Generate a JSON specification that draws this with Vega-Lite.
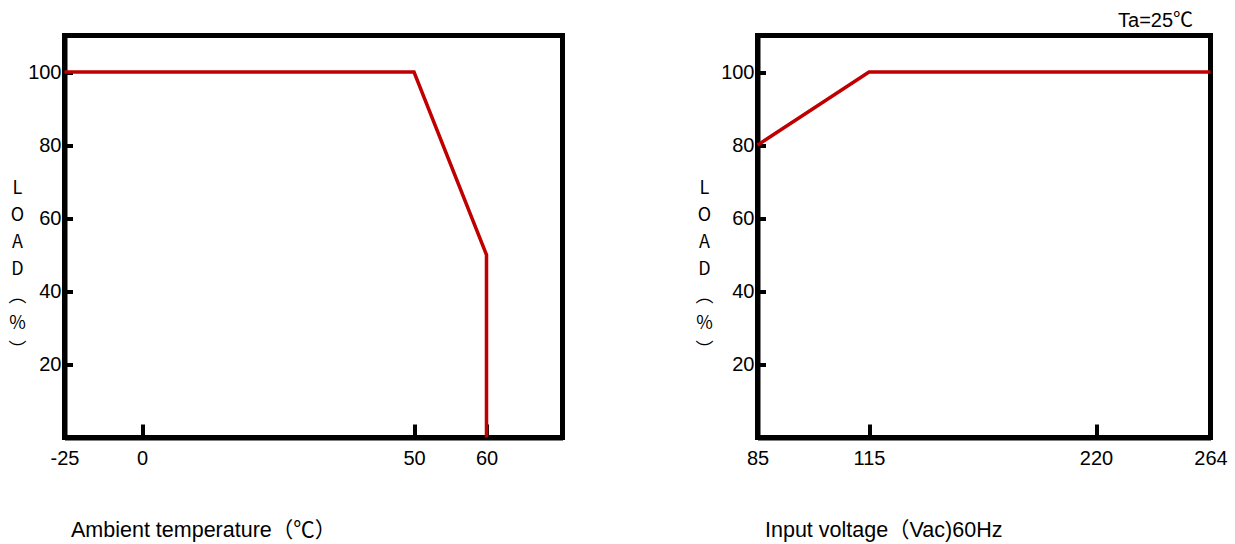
{
  "$schema": "https://vega.github.io/schema/vega-lite/v6.json",
  "autosize": "none",
  "padding": {"left": 64.5, "top": 35.5, "right": 1170.5, "bottom": 508.5},
  "background": "white",
  "bounds": "flush",
  "spacing": 195,
  "config": {
    "font": "Liberation Sans, Noto Sans CJK SC",
    "view": {"stroke": "black", "strokeWidth": 5},
    "axis": {
      "zindex": 1,
      "grid": false,
      "domain": true,
      "domainColor": "black",
      "domainWidth": 5,
      "tickColor": "black",
      "tickWidth": 4,
      "labelFont": "Liberation Sans",
      "labelFontSize": 20,
      "labelColor": "black",
      "labelFlush": false,
      "labelOverlap": false,
      "labelExpr": "replace(datum.label, '−', '-')",
      "titleFont": "Liberation Sans, Noto Sans CJK SC",
      "titleFontSize": 21.5,
      "titleFontWeight": "normal",
      "titleColor": "black"
    },
    "axisX": {"tickSize": -13.5, "labelPadding": 24},
    "axisY": {"tickSize": -8, "labelPadding": 11.5}
  },
  "datasets": {
    "temp": [
      {"i": 1, "temperature": -25, "load": 100},
      {"i": 2, "temperature": 50, "load": 100},
      {"i": 3, "temperature": 60, "load": 50},
      {"i": 4, "temperature": 60, "load": 0}
    ],
    "volt": [
      {"i": 1, "voltage": 85, "load": 80},
      {"i": 2, "voltage": 115, "load": 100},
      {"i": 3, "voltage": 264, "load": 100}
    ],
    "note": [
      {"voltage": 257.3, "load": 112.4, "label": "Ta=25℃"}
    ]
  },
  "hconcat": [
    {
      "width": 498,
      "height": 402,
      "data": {"name": "temp"},
      "mark": {"type": "line", "color": "#C00000", "strokeWidth": 3.5},
      "encoding": {
        "x": {
          "field": "temperature",
          "type": "quantitative",
          "scale": {"domain": [-25, 0, 50, 60, 70.5], "range": [0, 77.5, 349.5, 422, 498], "nice": false, "zero": false},
          "axis": {
            "values": [-25, 0, 50, 60],
            "title": "Ambient temperature（℃）",
            "titleAlign": "left",
            "titleBaseline": "alphabetic",
            "titleX": 6,
            "titleY": 99
          }
        },
        "y": {
          "field": "load",
          "type": "quantitative",
          "scale": {"domain": [0, 110], "nice": false, "zero": false},
          "axis": {
            "values": [20, 40, 60, 80, 100],
            "title": ["L", "O", "A", "D", "︵", "%", "︶"],
            "titleFont": "Noto Sans CJK SC",
            "titleFontSize": 18,
            "titleAngle": 0,
            "titleAlign": "center",
            "titleBaseline": "top",
            "titleLineHeight": 27,
            "titleX": -47.5,
            "titleY": 144
          }
        },
        "order": {"field": "i", "type": "quantitative"}
      }
    },
    {
      "width": 453,
      "height": 402,
      "encoding": {
        "x": {
          "field": "voltage",
          "type": "quantitative",
          "scale": {"domain": [85, 115, 220, 264], "range": [0, 111.5, 338.5, 453], "nice": false, "zero": false},
          "axis": {
            "values": [85, 115, 220, 264],
            "title": "Input voltage（Vac)60Hz",
            "titleAlign": "left",
            "titleBaseline": "alphabetic",
            "titleX": 7,
            "titleY": 99
          }
        },
        "y": {
          "field": "load",
          "type": "quantitative",
          "scale": {"domain": [0, 110], "nice": false, "zero": false},
          "axis": {
            "values": [20, 40, 60, 80, 100],
            "title": ["L", "O", "A", "D", "︵", "%", "︶"],
            "titleFont": "Noto Sans CJK SC",
            "titleFontSize": 18,
            "titleAngle": 0,
            "titleAlign": "center",
            "titleBaseline": "top",
            "titleLineHeight": 27,
            "titleX": -53.5,
            "titleY": 144
          }
        }
      },
      "layer": [
        {
          "data": {"name": "volt"},
          "mark": {"type": "line", "color": "#C00000", "strokeWidth": 3.5},
          "encoding": {"order": {"field": "i", "type": "quantitative"}}
        },
        {
          "data": {"name": "note"},
          "mark": {"type": "text", "align": "right", "baseline": "alphabetic", "fontSize": 20, "font": "Liberation Sans, Noto Sans CJK SC", "color": "black"},
          "encoding": {"text": {"field": "label"}}
        }
      ]
    }
  ]
}
